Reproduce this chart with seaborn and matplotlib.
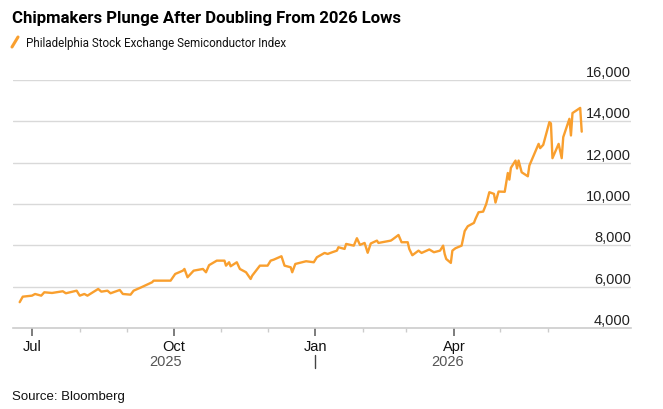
import pandas as pd
import matplotlib
matplotlib.use('Agg')
import matplotlib.pyplot as plt
from matplotlib.lines import Line2D
import seaborn as sns

# series (SOX index, daily-ish closes)
dates = [
    '2025-06-23', '2025-06-25', '2025-07-01', '2025-07-03', '2025-07-07', '2025-07-09',
    '2025-07-14', '2025-07-21', '2025-07-23', '2025-07-30', '2025-08-01', '2025-08-04',
    '2025-08-06', '2025-08-13', '2025-08-15', '2025-08-19', '2025-08-21', '2025-08-27',
    '2025-08-29', '2025-09-03', '2025-09-05', '2025-09-10', '2025-09-17', '2025-09-18',
    '2025-09-29', '2025-10-02', '2025-10-07', '2025-10-08', '2025-10-10', '2025-10-14',
    '2025-10-20', '2025-10-22', '2025-10-24', '2025-10-29', '2025-11-03', '2025-11-04',
    '2025-11-06', '2025-11-07', '2025-11-11', '2025-11-13', '2025-11-17', '2025-11-20',
    '2025-11-21', '2025-11-26', '2025-12-01', '2025-12-03', '2025-12-05', '2025-12-10',
    '2025-12-12', '2025-12-16', '2025-12-17', '2025-12-19', '2025-12-26', '2025-12-31',
    '2026-01-02', '2026-01-07', '2026-01-09', '2026-01-12', '2026-01-15', '2026-01-16',
    '2026-01-20', '2026-01-21', '2026-01-26', '2026-01-28', '2026-01-30', '2026-02-02',
    '2026-02-04', '2026-02-06', '2026-02-10', '2026-02-11', '2026-02-19', '2026-02-20',
    '2026-02-24', '2026-02-26', '2026-03-02', '2026-03-03', '2026-03-05', '2026-03-09',
    '2026-03-11', '2026-03-16', '2026-03-19', '2026-03-23', '2026-03-25', '2026-03-26',
    '2026-03-27', '2026-03-30', '2026-03-31', '2026-04-02', '2026-04-06', '2026-04-08',
    '2026-04-10', '2026-04-14', '2026-04-15', '2026-04-17', '2026-04-20', '2026-04-22',
    '2026-04-24', '2026-04-27', '2026-04-28', '2026-04-30', '2026-05-04', '2026-05-06',
    '2026-05-07', '2026-05-08', '2026-05-11', '2026-05-12', '2026-05-13', '2026-05-15',
    '2026-05-19', '2026-05-20', '2026-05-26', '2026-05-27', '2026-05-29', '2026-06-02',
    '2026-06-03', '2026-06-04', '2026-06-08', '2026-06-10', '2026-06-11', '2026-06-15',
    '2026-06-16', '2026-06-17', '2026-06-22', '2026-06-23',
]
values = [
    5250, 5516, 5565, 5646, 5565, 5728,
    5695, 5777, 5680, 5806, 5565, 5646,
    5565, 5889, 5758, 5806, 5680, 5840,
    5646, 5613, 5806, 5970, 6213, 6291,
    6291, 6615, 6775, 6857, 6455, 6775,
    6857, 6697, 7040, 7259, 7259, 7017,
    7181, 6987, 7181, 6857, 6697, 6373,
    6533, 7017, 7017, 7259, 7308, 7472,
    7017, 6938, 6697, 7099, 7230, 7181,
    7423, 7632, 7583, 7666, 7743, 7908,
    7826, 8068, 7985, 8344, 8019, 8116,
    7640, 8090, 8228, 8116, 8228, 8276,
    8500, 8150, 8150, 7826, 7520, 7743,
    7632, 7800, 7666, 7743, 7985, 7583,
    7341, 7150, 7743, 7859, 7985, 8690,
    8925, 9085, 9278, 9600, 9632, 10005,
    10571, 10490, 10070, 10603, 10590, 11500,
    11180, 11750, 12101, 11720, 12101, 11535,
    11341, 11860, 12910, 12702, 12862, 13961,
    13900, 12218, 12910, 12218, 13235, 14121,
    13316, 14400, 14650, 13500,
]

y_ticks = [4000, 6000, 8000, 10000, 12000, 14000, 16000]
quarter_ticks = ['2025-07-01', '2025-10-01', '2026-01-01', '2026-04-01']
month_ticks = pd.date_range('2025-07-01', '2026-06-01', freq='MS')

df = pd.DataFrame({'date': pd.to_datetime(dates), 'value': values})

sns.set_style('white')
plt.rcParams['font.family'] = ['Liberation Sans', 'DejaVu Sans']

W, H = 663, 410
fig = plt.figure(figsize=(W / 100, H / 100), dpi=100)
ax = fig.add_axes([13 / W, 1 - 329 / H, (631 - 13) / W, (329 - 81) / H])

orange = '#F99F2E'
sns.lineplot(data=df, x='date', y='value', color=orange, linewidth=1.7, ax=ax)

ax.set_xlim(pd.Timestamp('2025-06-18 16:00'), pd.Timestamp('2026-07-25'))
ax.set_ylim(4000, 16000)

# horizontal grid + right-side labels sitting above the lines
for v in y_ticks[1:]:
    ax.axhline(v, color='#d9d9d9', linewidth=1, zorder=0)
for v in y_ticks:
    ax.text(1.0, v + 200, f'{v:,}', transform=ax.get_yaxis_transform(),
            ha='right', va='baseline', fontsize=10.5, color='#222222')

for s in ['top', 'right', 'left']:
    ax.spines[s].set_visible(False)
ax.spines['bottom'].set_color('#cccccc')
ax.spines['bottom'].set_linewidth(1.2)
ax.set_yticks([])
ax.set_xlabel('')
ax.set_ylabel('')

ax.set_xticks(pd.to_datetime(quarter_ticks))
ax.set_xticklabels([pd.Timestamp(d).strftime('%b') for d in quarter_ticks])
ax.set_xticks(month_ticks, minor=True)
ax.tick_params(axis='x', which='major', length=6, width=1.2, color='#666666',
               labelsize=10.5, labelcolor='#111111', pad=2, bottom=True)
ax.tick_params(axis='x', which='minor', length=3, width=1, color='#cccccc', bottom=True)

# year labels + separator under Jan
trans = ax.get_xaxis_transform()
ax.text(pd.Timestamp('2025-09-26'), -0.135, '2025', transform=trans, ha='center', va='center',
        fontsize=10.5, color='#555555')
ax.text(pd.Timestamp('2026-03-28'), -0.135, '2026', transform=trans, ha='center', va='center',
        fontsize=10.5, color='#555555')
ax.axvline(pd.Timestamp('2026-01-01'), ymin=-0.163, ymax=-0.107, color='#444444',
           linewidth=1, clip_on=False)

fig.text(12 / W, 1 - 18 / H, 'Chipmakers Plunge After Doubling From 2026 Lows',
         fontsize=12.1, fontweight='bold', ha='left', va='center', color='#000000',
         family='Roboto')
fig.add_artist(Line2D([12 / W, 18 / W], [1 - 48 / H, 1 - 38 / H], color=orange,
                      linewidth=2.2, solid_capstyle='round'))
fig.text(26 / W, 1 - 43 / H, 'Philadelphia Stock Exchange Semiconductor Index',
         fontsize=8.4, ha='left', va='center', color='#111111', family='Roboto')
fig.text(12 / W, 1 - 397 / H, 'Source: Bloomberg', fontsize=9.5, ha='left', va='center',
         color='#111111')

fig.savefig('out.png', dpi=100)
